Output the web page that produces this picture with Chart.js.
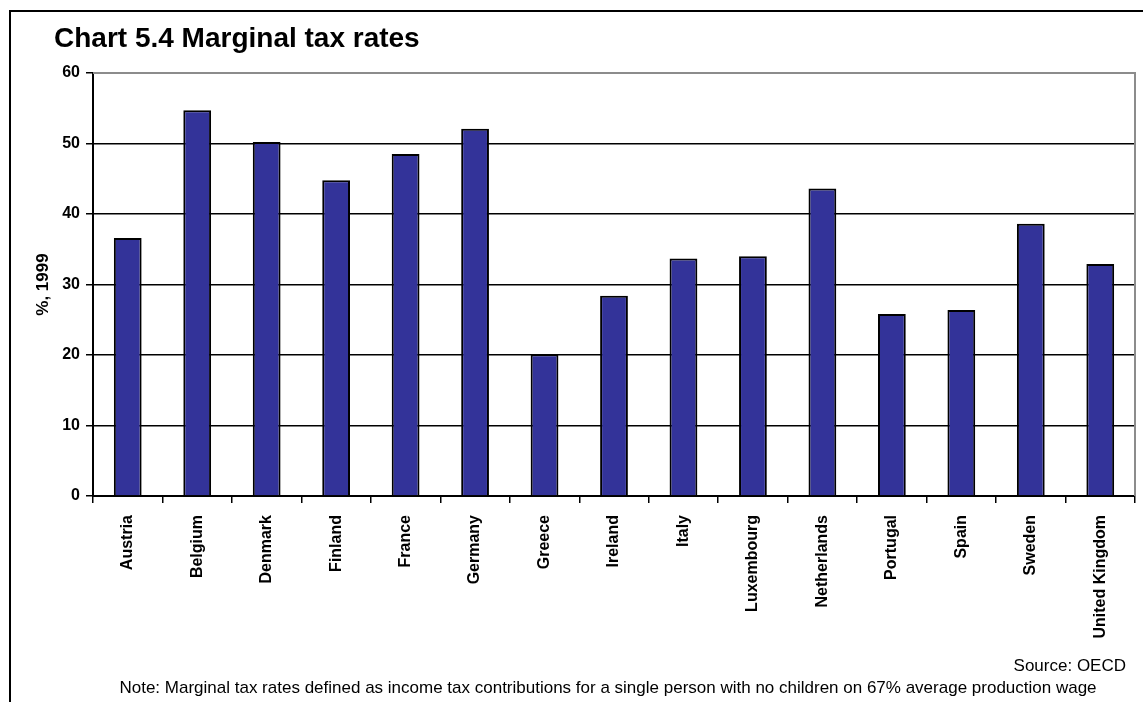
<!DOCTYPE html>
<html>
<head>
<meta charset="utf-8">
<title>Marginal tax rates</title>
<script src="https://cdn.jsdelivr.net/npm/chart.js@4.4.1/dist/chart.umd.min.js"></script>
<style>
  html, body { margin: 0; padding: 0; background: #fff; }
  canvas { display: block; }
</style>
</head>
<body>
<canvas id="taxChart" width="1143" height="702"></canvas>
<script>
// marginal tax rates by country, % in 1999
const countries = ['Austria', 'Belgium', 'Denmark', 'Finland', 'France', 'Germany', 'Greece', 'Ireland',
  'Italy', 'Luxembourg', 'Netherlands', 'Portugal', 'Spain', 'Sweden', 'United Kingdom'];
const taxRates = [36.6, 54.7, 50.2, 44.8, 48.5, 52.1, 20.1, 28.4, 33.7, 34.0, 43.6, 25.8, 26.4, 38.6, 32.9];
const yTicks = [0, 10, 20, 30, 40, 50, 60];

const chartTitle = 'Chart 5.4 Marginal tax rates';
const sourceText = 'Source: OECD';
const noteText = 'Note: Marginal tax rates defined as income tax contributions for a single person with no children on 67% average production wage';

const FONT = "'Liberation Sans', Arial, Helvetica, sans-serif";

// frame, heading and footnotes around the plot
const decorations = {
  id: 'decorations',
  afterDraw(chart) {
    const ctx = chart.ctx;
    const area = chart.chartArea;
    ctx.save();

    // gray top and right edges of the plot area
    ctx.strokeStyle = '#8c8c8c';
    ctx.lineWidth = 2;
    ctx.beginPath();
    ctx.moveTo(area.left, area.top);
    ctx.lineTo(area.right, area.top);
    ctx.lineTo(area.right, area.bottom);
    ctx.stroke();

    // outer border, top and left only
    ctx.strokeStyle = '#000';
    ctx.lineWidth = 2;
    ctx.beginPath();
    ctx.moveTo(chart.width, 11);
    ctx.lineTo(10, 11);
    ctx.lineTo(10, chart.height);
    ctx.stroke();

    ctx.fillStyle = '#000';
    ctx.textBaseline = 'alphabetic';
    ctx.font = 'bold 28px ' + FONT;
    ctx.textAlign = 'left';
    ctx.fillText(chartTitle, 54, 47);

    ctx.font = '17px ' + FONT;
    ctx.textAlign = 'right';
    ctx.fillText(sourceText, 1126, 671);
    ctx.textAlign = 'center';
    ctx.fillText(noteText, 608, 693);
    ctx.restore();
  }
};

new Chart(document.getElementById('taxChart'), {
  type: 'bar',
  data: {
    labels: countries,
    datasets: [{
      data: taxRates,
      backgroundColor: '#333399',
      borderColor: '#000',
      borderWidth: 2,
      barPercentage: 0.4,
      categoryPercentage: 1.0
    }]
  },
  options: {
    responsive: false,
    animation: false,
    layout: {
      padding: { left: 33, top: 73, right: 8, bottom: 56 }
    },
    plugins: {
      legend: { display: false },
      tooltip: { enabled: false }
    },
    scales: {
      x: {
        offset: true,
        afterFit(scale) { scale.height = 150; },
        grid: {
          offset: true,
          drawOnChartArea: false,
          color: '#000',
          lineWidth: 1.5,
          tickLength: 7
        },
        border: { color: '#000', width: 2 },
        ticks: {
          autoSkip: false,
          minRotation: 90,
          maxRotation: 90,
          padding: 12,
          color: '#000',
          font: { family: FONT, size: 16, weight: 'bold' }
        }
      },
      y: {
        min: 0,
        max: 60,
        afterFit(scale) { scale.width = 60; },
        afterBuildTicks(scale) {
          scale.ticks = yTicks.map(v => ({ value: v }));
        },
        grid: {
          color: ctx => (ctx.tick && ctx.tick.value === 60) ? '#8c8c8c' : '#000',
          tickColor: '#000',
          lineWidth: 1.5,
          tickLength: 7
        },
        border: { color: '#000', width: 2 },
        ticks: {
          padding: 6,
          color: '#000',
          font: { family: FONT, size: 16, weight: 'bold' }
        },
        title: {
          display: true,
          text: '%, 1999',
          color: '#000',
          padding: { top: 0, bottom: 0 },
          font: { family: FONT, size: 17, weight: 'bold' }
        }
      }
    }
  },
  plugins: [decorations]
});
</script>
</body>
</html>
